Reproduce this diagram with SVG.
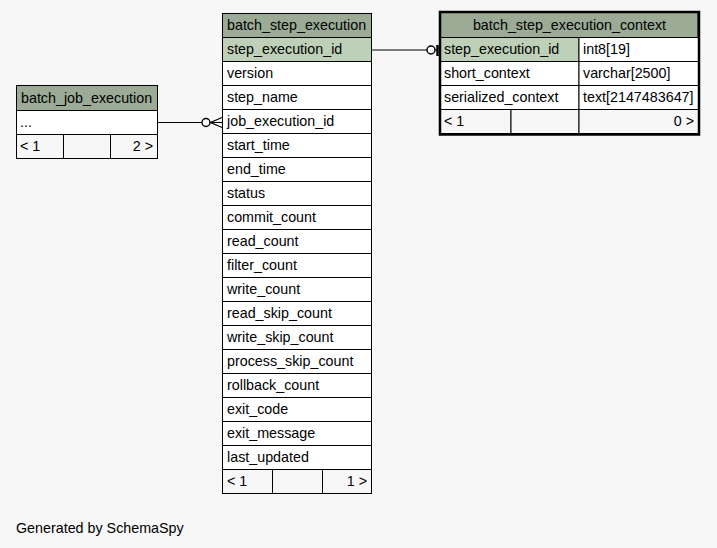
<svg xmlns="http://www.w3.org/2000/svg" width="717" height="548" viewBox="0 0 717 548">
<style>
text{font-family:"Liberation Sans",Arial,Helvetica,sans-serif;font-size:14.3px;fill:#000}
.hd{fill:#9bab96;stroke:#000;stroke-width:1}
.pk{fill:#bed1b8;stroke:#000;stroke-width:1}
.rw{fill:#fff;stroke:#000;stroke-width:1}
.ft{fill:#f7f7f7;stroke:#000;stroke-width:1}
.ln{stroke:#000;stroke-width:1.2;fill:none}
.r{text-anchor:end}
.c{text-anchor:middle}
</style>
<rect x="0" y="0" width="717" height="548" fill="#f7f7f7"/>
<g id="connectors">
<line class="ln" x1="157.5" y1="122.5" x2="222" y2="122.5"/>
<circle cx="206" cy="122.5" r="4" fill="#fff" stroke="#000" stroke-width="1.4"/>
<polyline class="ln" stroke-width="1.6" points="222,117.5 210.5,122.5 222,127.5"/>
<line class="ln" x1="371.5" y1="50" x2="438" y2="50"/>
<circle cx="431" cy="50" r="4" fill="#fff" stroke="#000" stroke-width="1.4"/>
<line x1="437.5" y1="45" x2="437.5" y2="56" stroke="#000" stroke-width="2.5"/>
</g>
<g id="batch_job_execution">
<rect class="hd" x="16.5" y="85.5" width="141" height="25"/>
<text x="21" y="102.5">batch_job_execution</text>
<rect class="rw" x="16.5" y="110.5" width="141" height="24"/>
<text x="20" y="127">...</text>
<rect class="ft" x="16.5" y="134.5" width="47" height="24"/>
<rect class="ft" x="63.5" y="134.5" width="47" height="24"/>
<rect class="ft" x="110.5" y="134.5" width="47" height="24"/>
<text x="20" y="151">&lt; 1</text>
<text class="r" x="153" y="151">2 &gt;</text>
</g>
<g id="batch_step_execution">
<rect class="hd" x="222.5" y="13.5" width="149" height="24"/>
<text x="227" y="30">batch_step_execution</text>
<rect class="pk" x="222.5" y="37.5" width="149" height="24"/>
<text x="227" y="54">step_execution_id</text>
<rect class="rw" x="222.5" y="61.5" width="149" height="24"/>
<text x="227" y="78">version</text>
<rect class="rw" x="222.5" y="85.5" width="149" height="24"/>
<text x="227" y="102">step_name</text>
<rect class="rw" x="222.5" y="109.5" width="149" height="24"/>
<text x="227" y="126">job_execution_id</text>
<rect class="rw" x="222.5" y="133.5" width="149" height="24"/>
<text x="227" y="150">start_time</text>
<rect class="rw" x="222.5" y="157.5" width="149" height="24"/>
<text x="227" y="174">end_time</text>
<rect class="rw" x="222.5" y="181.5" width="149" height="24"/>
<text x="227" y="198">status</text>
<rect class="rw" x="222.5" y="205.5" width="149" height="24"/>
<text x="227" y="222">commit_count</text>
<rect class="rw" x="222.5" y="229.5" width="149" height="24"/>
<text x="227" y="246">read_count</text>
<rect class="rw" x="222.5" y="253.5" width="149" height="24"/>
<text x="227" y="270">filter_count</text>
<rect class="rw" x="222.5" y="277.5" width="149" height="24"/>
<text x="227" y="294">write_count</text>
<rect class="rw" x="222.5" y="301.5" width="149" height="24"/>
<text x="227" y="318">read_skip_count</text>
<rect class="rw" x="222.5" y="325.5" width="149" height="24"/>
<text x="227" y="342">write_skip_count</text>
<rect class="rw" x="222.5" y="349.5" width="149" height="24"/>
<text x="227" y="366">process_skip_count</text>
<rect class="rw" x="222.5" y="373.5" width="149" height="24"/>
<text x="227" y="390">rollback_count</text>
<rect class="rw" x="222.5" y="397.5" width="149" height="24"/>
<text x="227" y="414">exit_code</text>
<rect class="rw" x="222.5" y="421.5" width="149" height="24"/>
<text x="227" y="438">exit_message</text>
<rect class="rw" x="222.5" y="445.5" width="149" height="24"/>
<text x="227" y="462">last_updated</text>
<rect class="ft" x="222.5" y="469.5" width="50" height="24"/>
<rect class="ft" x="272.5" y="469.5" width="50" height="24"/>
<rect class="ft" x="322.5" y="469.5" width="49" height="24"/>
<text x="227" y="486">&lt; 1</text>
<text class="r" x="367" y="486">1 &gt;</text>
</g>
<g id="batch_step_execution_context">
<rect class="hd" x="440" y="12" width="258" height="25.5" stroke-width="0"/>
<text class="c" x="569.5" y="30">batch_step_execution_context</text>
<rect class="pk" x="440.5" y="37.5" width="138.5" height="24"/>
<text x="444" y="54">step_execution_id</text>
<rect class="rw" x="579" y="37.5" width="119.5" height="24"/>
<text x="583" y="54">int8[19]</text>
<rect class="rw" x="440.5" y="61.5" width="138.5" height="24"/>
<text x="444" y="78">short_context</text>
<rect class="rw" x="579" y="61.5" width="119.5" height="24"/>
<text x="583" y="78">varchar[2500]</text>
<rect class="rw" x="440.5" y="85.5" width="138.5" height="24"/>
<text x="444" y="102">serialized_context</text>
<rect class="rw" x="579" y="85.5" width="119.5" height="24"/>
<text x="583" y="102">text[2147483647]</text>
<rect class="ft" x="440.5" y="109.5" width="70.5" height="24"/>
<rect class="ft" x="511" y="109.5" width="68" height="24"/>
<rect class="ft" x="579" y="109.5" width="119.5" height="24"/>
<text x="444" y="126">&lt; 1</text>
<text class="r" x="694" y="126">0 &gt;</text>
<rect x="440" y="12" width="259" height="122.5" fill="none" stroke="#000" stroke-width="2.5"/>
</g>
<text x="16" y="533">Generated by SchemaSpy</text>
</svg>
